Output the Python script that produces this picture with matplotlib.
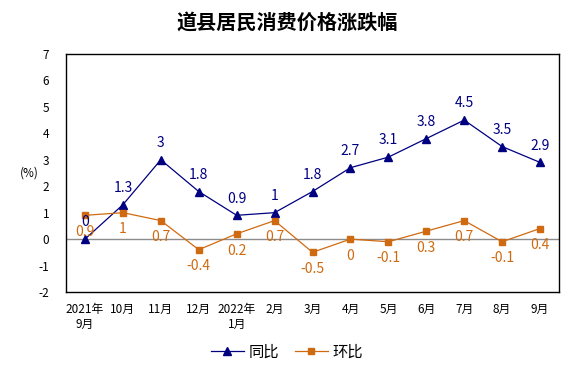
import matplotlib.pyplot as plt
from matplotlib.lines import Line2D

plt.rcParams['font.family'] = ['Noto Sans CJK SC', 'DejaVu Sans']
plt.rcParams['axes.unicode_minus'] = False

months = ['2021年\n9月', '10月', '11月', '12月', '2022年\n1月', '2月', '3月',
          '4月', '5月', '6月', '7月', '8月', '9月']
yoy = [0, 1.3, 3, 1.8, 0.9, 1, 1.8, 2.7, 3.1, 3.8, 4.5, 3.5, 2.9]
mom = [0.9, 1, 0.7, -0.4, 0.2, 0.7, -0.5, 0, -0.1, 0.3, 0.7, -0.1, 0.4]

blue = '#000080'
orange = '#D06A10'

fig = plt.figure(figsize=(5.74, 3.74), dpi=100)
ax = fig.add_axes([66 / 574, 1 - 292 / 374, 493 / 574, 238 / 374])

x = list(range(len(months)))
ax.axhline(0, color='#8c8c8c', lw=1, zorder=1)
ax.plot(x, yoy, color=blue, lw=0.9, marker='^', ms=6, zorder=3)
ax.plot(x, mom, color=orange, lw=0.9, marker='s', ms=4.5, zorder=3)

for i, v in enumerate(yoy):
    ax.annotate(f'{v:g}', (i, v), xytext=(0, 7), textcoords='offset points',
                ha='center', va='bottom', fontsize=10, color=blue)
for i, v in enumerate(mom):
    ax.annotate(f'{v:g}', (i, v), xytext=(0, -7), textcoords='offset points',
                ha='center', va='top', fontsize=10, color=orange)

ax.set_xlim(-0.5, len(months) - 0.5)
ax.set_ylim(-2, 7)
ax.set_yticks(range(-2, 8))
ax.set_xticks(x)
ax.set_xticklabels(months, fontsize=8.5, linespacing=1.2)
ax.tick_params(axis='both', length=0)
ax.tick_params(axis='y', pad=12, labelsize=8.5)
ax.tick_params(axis='x', pad=8)
for s in ax.spines.values():
    s.set_color('black')
    s.set_linewidth(1)

fig.text(20 / 574, 1 - 173 / 374, '(%)', fontsize=8.5, ha='left', va='center')
fig.text(0.5, 1 - 22 / 374, '道县居民消费价格涨跌幅', fontsize=14.5, fontweight='bold',
         ha='center', va='center')

handles = [Line2D([], [], color=blue, marker='^', ms=6, lw=0.9),
           Line2D([], [], color=orange, marker='s', ms=4.5, lw=0.9)]
fig.legend(handles, ['同比', '环比'], loc='center', bbox_to_anchor=(0.5, 1 - 352 / 374),
           ncol=2, frameon=False, fontsize=11, handlelength=2.2, columnspacing=1.0,
           handletextpad=0.3)

fig.savefig('out.png', dpi=100)
